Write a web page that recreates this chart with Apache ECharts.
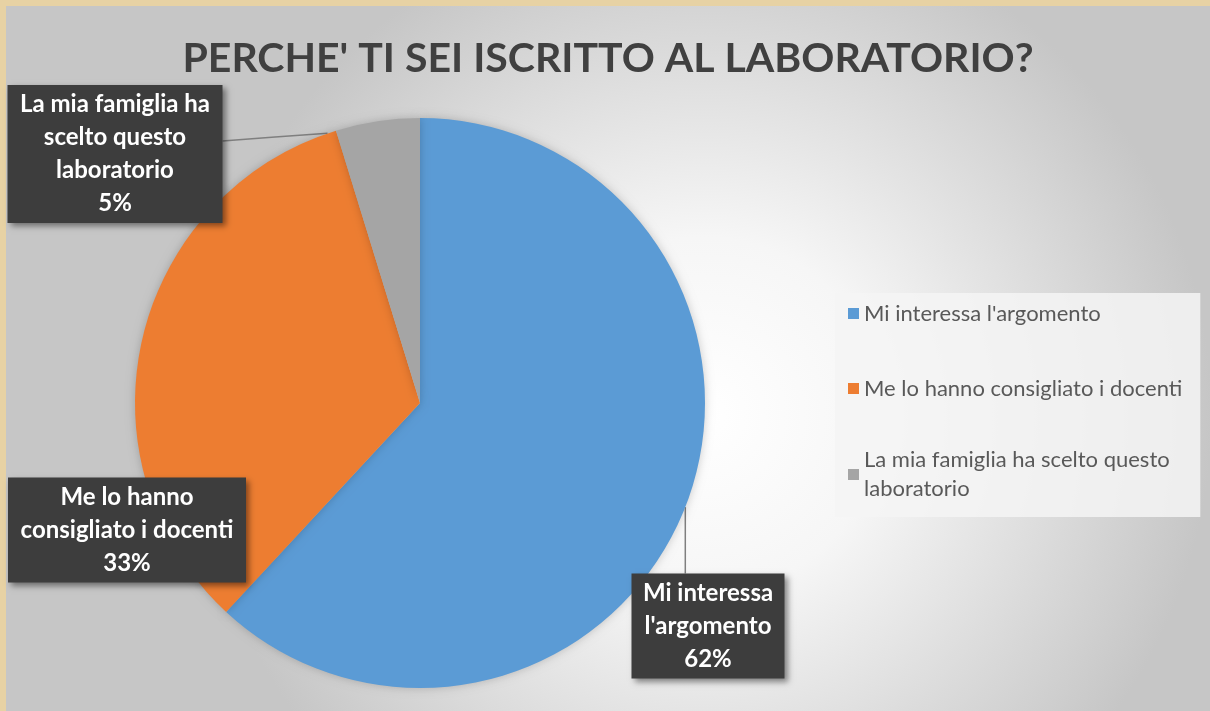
<!DOCTYPE html>
<html>
<head>
<meta charset="utf-8">
<script src="https://cdn.jsdelivr.net/npm/echarts@6/dist/echarts.min.js"></script>
<style>
  html, body { margin: 0; padding: 0; background: #e7d2a4; }
  #main { width: 1210px; height: 711px; }
</style>
</head>
<body>
<div id="main"></div>
<script>
// risposte al questionario
var categories = ['Mi interessa l\'argomento', 'Me lo hanno consigliato i docenti', 'La mia famiglia ha scelto questo laboratorio'];
var labelTexts = ['Mi interessa\nl\'argomento', 'Me lo hanno\nconsigliato i docenti', 'La mia famiglia ha\nscelto questo\nlaboratorio'];
var values = [13, 7, 1];
var colors = ['#5b9bd5', '#ed7d31', '#a5a5a5'];

// posizione dei riquadri delle etichette (centro) e larghezza
var labelPos = [[708, 626], [127, 530], [115, 154]];
var labelWidth = [137, 222, 199];
var showLine = [true, false, true];

var LEG_LH = 29;

var myChart = echarts.init(document.getElementById('main'));

var pieData = values.map(function (v, i) {
  return {
    name: categories[i],
    value: v,
    itemStyle: { color: colors[i] },
    label: { width: labelWidth[i] },
    labelLine: { show: showLine[i] }
  };
});

var legendData = categories.map(function (c, i) {
  // la voce su due righe: icona allineata alla prima riga
  if (i === 2) return { name: c, textStyle: { padding: [0, 0, -LEG_LH, 0] } };
  return { name: c };
});

myChart.setOption({
  graphic: [{
    type: 'rect',
    left: 6,
    top: 6,
    z: -10,
    silent: true,
    shape: { width: 1204, height: 705 },
    style: {
      fill: new echarts.graphic.RadialGradient(0.58, 0.58, 0.72, [
        { offset: 0, color: '#ffffff' },
        { offset: 0.35, color: '#f6f6f6' },
        { offset: 1, color: '#c6c6c6' }
      ])
    }
  }],
  title: {
    text: 'PERCHE\' TI SEI ISCRITTO AL LABORATORIO?',
    left: 603,
    textAlign: 'center',
    top: 33,
    textStyle: {
      fontFamily: 'Lato',
      fontWeight: 'bold',
      fontSize: 41,
      color: '#404040'
    }
  },
  legend: {
    orient: 'vertical',
    left: 835,
    top: 293,
    padding: [6, 18, 17, 13],
    backgroundColor: 'rgba(244,244,244,0.85)',
    itemGap: 75 - LEG_LH,
    itemWidth: 11,
    itemHeight: 11,
    icon: 'rect',
    data: legendData,
    formatter: function (name) {
      return name === categories[2] ? 'La mia famiglia ha scelto questo\nlaboratorio' : name;
    },
    textStyle: {
      fontFamily: 'Lato',
      fontSize: 22,
      lineHeight: LEG_LH,
      color: '#595959'
    }
  },
  series: [{
    type: 'pie',
    center: [420, 403],
    radius: 285,
    startAngle: 90,
    clockwise: true,
    percentPrecision: 0,
    silent: true,
    itemStyle: {
      shadowBlur: 10,
      shadowColor: 'rgba(0,0,0,0.2)'
    },
    label: {
      show: true,
      position: 'outside',
      formatter: function (p) {
        return labelTexts[p.dataIndex] + '\n' + p.percent + '%';
      },
      fontFamily: 'Lato',
      fontWeight: 'bold',
      fontSize: 24,
      lineHeight: 33,
      color: '#ffffff',
      align: 'center',
      backgroundColor: '#3d3d3d',
      padding: [3, 8],
      shadowBlur: 6,
      shadowOffsetX: 3,
      shadowOffsetY: 3,
      shadowColor: 'rgba(0,0,0,0.45)'
    },
    labelLine: {
      length: 20,
      length2: 20,
      lineStyle: { color: '#7f7f7f', width: 1.5 }
    },
    labelLayout: function (params) {
      var i = params.dataIndex;
      var pos = labelPos[i];
      var r = params.labelRect;
      var top = pos[1] - r.height / 2;
      var right = pos[0] + r.width / 2;
      var res = { x: pos[0], y: pos[1], align: 'center', verticalAlign: 'middle' };
      var pts = params.labelLinePoints;
      if (pts && showLine[i]) {
        var p0 = pts[0];
        if (i === 0) {
          // linea verticale verso il riquadro sotto
          res.labelLinePoints = [[p0[0], p0[1]], [p0[0], (p0[1] + top) / 2], [p0[0], top]];
        } else {
          var ey = top + 56;
          res.labelLinePoints = [[p0[0] - 50, p0[1] + 12], [(p0[0] - 50 + right) / 2, (p0[1] + 12 + ey) / 2], [right, ey]];
        }
      }
      return res;
    },
    data: pieData
  }]
});
</script>
</body>
</html>
